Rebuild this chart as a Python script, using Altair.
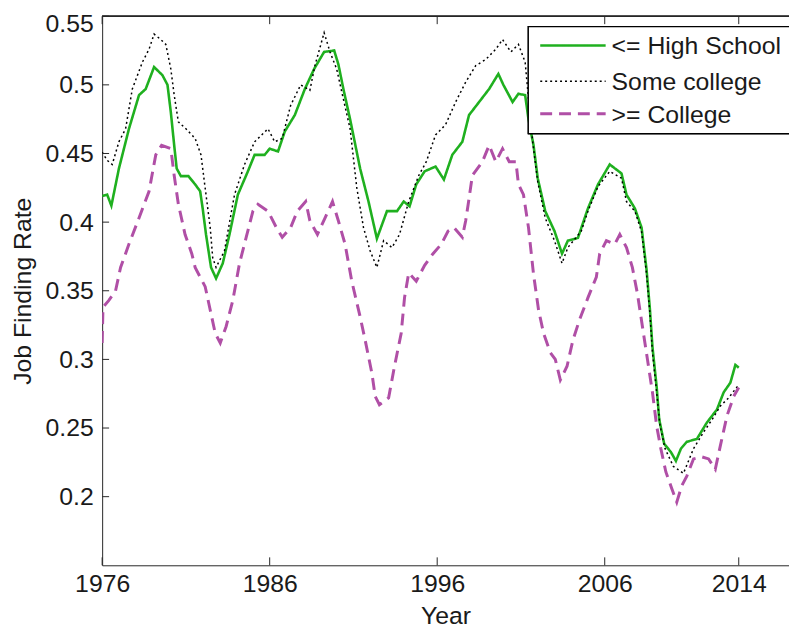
import altair as alt
import pandas as pd

# ---------------- data ----------------
series_names = ["<= High School", "Some college", ">= College"]

hs_years = [1976.0, 1976.3, 1976.55, 1977.0, 1977.6, 1978.2, 1978.6, 1979.1, 1979.6, 1979.9,
            1980.1, 1980.3, 1980.45, 1980.7, 1981.15, 1981.55, 1981.85, 1982.0, 1982.2, 1982.5,
            1982.8, 1983.2, 1983.6, 1984.1, 1984.7, 1985.1, 1985.7, 1986.0, 1986.5, 1986.9,
            1987.5, 1988.1, 1988.65, 1989.25, 1989.85, 1990.1, 1990.4, 1990.8, 1991.4, 1991.9,
            1992.4, 1993.0, 1993.6, 1994.0, 1994.35, 1994.75, 1995.25, 1995.9, 1996.4, 1996.9,
            1997.5, 1997.9, 1998.5, 1999.1, 1999.65, 1999.95, 2000.5, 2000.85, 2001.25, 2001.45,
            2001.75, 2002.0, 2002.45, 2003.0, 2003.45, 2003.8, 2004.4, 2005.0, 2005.6, 2006.3,
            2007.0, 2007.3, 2007.8, 2008.2, 2008.5, 2008.7, 2008.85, 2009.1, 2009.25, 2009.55,
            2009.95, 2010.25, 2010.55, 2010.9, 2011.5, 2012.1, 2012.7, 2013.1, 2013.5, 2013.8,
            2014.0]
hs_vals = [0.419, 0.420, 0.412, 0.439, 0.468, 0.4925, 0.497, 0.513, 0.507, 0.500,
           0.480, 0.456, 0.439, 0.4335, 0.4335, 0.4275, 0.4225, 0.410, 0.391, 0.367,
           0.359, 0.370, 0.391, 0.420, 0.437, 0.449, 0.449, 0.4535, 0.4515, 0.466,
           0.478, 0.497, 0.5115, 0.524, 0.525, 0.515, 0.497, 0.475, 0.439, 0.415,
           0.388, 0.408, 0.408, 0.415, 0.4115, 0.4275, 0.437, 0.4405, 0.431, 0.449,
           0.4585, 0.478, 0.4875, 0.497, 0.508, 0.500, 0.4875, 0.4935, 0.4925, 0.475,
           0.456, 0.432, 0.408, 0.3935, 0.377, 0.3865, 0.3885, 0.410, 0.4275, 0.442,
           0.4355, 0.420, 0.410, 0.396, 0.365, 0.336, 0.309, 0.280, 0.2565, 0.2385,
           0.2325, 0.226, 0.235, 0.240, 0.242, 0.254, 0.2635, 0.276, 0.283, 0.296,
           0.294]

sc_years = [1976.0, 1976.3, 1976.6, 1977.0, 1977.4, 1977.8, 1978.4, 1978.8, 1979.1, 1979.5,
            1979.8, 1980.1, 1980.3, 1980.55, 1981.0, 1981.55, 1981.9, 1982.1, 1982.45, 1982.6,
            1982.8, 1983.3, 1983.9, 1984.5, 1985.1, 1985.9, 1986.3, 1986.75, 1987.25, 1987.85,
            1988.4, 1988.7, 1989.25, 1989.6, 1990.0, 1990.3, 1990.8, 1991.2, 1991.6, 1992.0,
            1992.4, 1992.8, 1993.3, 1993.75, 1994.3, 1994.9, 1995.35, 1995.9, 1996.5, 1997.1,
            1997.7, 1998.3, 1998.9, 1999.5, 1999.9, 2000.4, 2000.85, 2001.25, 2001.45, 2001.7,
            2002.0, 2002.45, 2003.0, 2003.45, 2003.8, 2004.6, 2005.0, 2005.6, 2006.3, 2007.0,
            2007.3, 2007.8, 2008.2, 2008.5, 2008.7, 2008.85, 2009.1, 2009.3, 2009.6, 2010.1,
            2010.7, 2011.3, 2011.9, 2012.4, 2012.9, 2013.4, 2013.9, 2014.0]
sc_vals = [0.451, 0.445, 0.442, 0.4585, 0.468, 0.497, 0.5165, 0.526, 0.537, 0.533,
           0.5295, 0.5115, 0.4925, 0.473, 0.468, 0.461, 0.449, 0.4295, 0.396, 0.374,
           0.367, 0.379, 0.420, 0.442, 0.4585, 0.468, 0.4585, 0.461, 0.485, 0.500,
           0.496, 0.514, 0.538, 0.524, 0.5115, 0.495, 0.468, 0.425, 0.396, 0.379,
           0.367, 0.3865, 0.3815, 0.391, 0.415, 0.434, 0.444, 0.4635, 0.471, 0.4875,
           0.502, 0.514, 0.5185, 0.526, 0.533, 0.524, 0.5295, 0.5165, 0.490, 0.4585,
           0.4295, 0.403, 0.3865, 0.370, 0.3815, 0.3935, 0.408, 0.426, 0.437, 0.432,
           0.415, 0.408, 0.393, 0.362, 0.333, 0.305, 0.276, 0.252, 0.235, 0.222,
           0.217, 0.235, 0.247, 0.256, 0.266, 0.272, 0.280, 0.282]

col_years = [1976.0, 1976.05, 1976.4, 1976.8, 1977.1, 1977.6, 1978.2, 1978.8, 1979.2, 1979.55,
             1980.1, 1980.3, 1980.55, 1980.95, 1981.35, 1981.55, 1982.15, 1982.45, 1982.75, 1983.05,
             1983.4, 1983.8, 1984.2, 1984.6, 1985.0, 1985.3, 1985.9, 1986.4, 1986.75, 1987.25,
             1987.65, 1988.15, 1988.4, 1988.85, 1989.3, 1989.75, 1990.1, 1990.5, 1990.9, 1991.4,
             1991.7, 1992.1, 1992.3, 1992.55, 1993.1, 1993.45, 1993.85, 1994.05, 1994.3, 1994.75,
             1995.25, 1995.75, 1996.25, 1996.65, 1997.0, 1997.5, 1997.7, 1997.85, 1998.1, 1998.7,
             1999.1, 1999.5, 1999.9, 2000.3, 2000.7, 2000.85, 2001.15, 2001.45, 2001.75, 2002.05,
             2002.35, 2002.75, 2003.05, 2003.35, 2003.75, 2004.1, 2004.5, 2005.0, 2005.5, 2005.7,
             2006.1, 2006.6, 2006.9, 2007.3, 2007.65, 2007.95, 2008.25, 2008.55, 2008.85, 2009.1,
             2009.35, 2009.65, 2010.0, 2010.3, 2010.6, 2010.9, 2011.3, 2011.8, 2012.2, 2012.6,
             2012.9, 2013.3, 2013.7, 2014.0]
col_vals = [0.312, 0.338, 0.343, 0.350, 0.367, 0.384, 0.403, 0.4225, 0.449, 0.456,
            0.4535, 0.434, 0.413, 0.391, 0.377, 0.367, 0.353, 0.336, 0.319, 0.312,
            0.324, 0.343, 0.370, 0.389, 0.408, 0.413, 0.408, 0.396, 0.389, 0.396,
            0.408, 0.415, 0.401, 0.391, 0.403, 0.415, 0.401, 0.384, 0.357, 0.331,
            0.314, 0.290, 0.273, 0.267, 0.272, 0.295, 0.319, 0.345, 0.363, 0.357,
            0.3685, 0.377, 0.384, 0.3935, 0.396, 0.389, 0.401, 0.413, 0.434, 0.444,
            0.456, 0.444, 0.4535, 0.444, 0.444, 0.4275, 0.420, 0.396, 0.362, 0.336,
            0.319, 0.305, 0.300, 0.285, 0.295, 0.314, 0.329, 0.345, 0.360, 0.377,
            0.3865, 0.384, 0.391, 0.3815, 0.367, 0.348, 0.324, 0.300, 0.276, 0.2515,
            0.235, 0.218, 0.206, 0.196, 0.208, 0.215, 0.2275, 0.229, 0.2275, 0.220,
            0.237, 0.259, 0.273, 0.2795]

x_ticks = [1976, 1986, 1996, 2006, 2014]
y_ticks = [0.2, 0.25, 0.3, 0.35, 0.4, 0.45, 0.5, 0.55]

# ---------------- styling ----------------
colors = ["#1fb01f", "#000000", "#b04fa6"]
dashes = [[1, 0], [2, 3], [12, 7]]
widths = [2.6, 1.5, 3]
FONT = "Liberation Sans"
TXT = "#1a1a1a"
AX = "#262626"
W, H = 693, 554

rows = []
for name, ys, vs in zip(series_names, [hs_years, sc_years, col_years], [hs_vals, sc_vals, col_vals]):
    for yr, v in zip(ys, vs):
        rows.append({"series": name, "year": yr, "rate": v})
df = pd.DataFrame(rows)

xscale = alt.Scale(domain=[1976, 2017], nice=False, zero=False)
yscale = alt.Scale(domain=[0.15, 0.55], nice=False, zero=False)

lines = alt.Chart(df).mark_line(clip=True).encode(
    x=alt.X("year:Q", scale=xscale,
            axis=alt.Axis(values=x_ticks, format="d", title="Year", ticks=False,
                          labelPadding=6, labelFlush=False, titleY=59,
                          titleBaseline="alphabetic", grid=False)),
    y=alt.Y("rate:Q", scale=yscale,
            axis=alt.Axis(values=y_ticks, format=".2~f", title="Job Finding Rate",
                          ticks=False, labelPadding=9, labelFlush=True,
                          labelFlushOffset=5, titleX=-80,
                          titleY=H / 2, titleBaseline="middle", grid=False)),
    color=alt.Color("series:N", scale=alt.Scale(domain=series_names, range=colors),
                    legend=None),
    strokeDash=alt.StrokeDash("series:N", scale=alt.Scale(domain=series_names, range=dashes),
                              legend=None),
    strokeWidth=alt.StrokeWidth("series:N",
                                scale=alt.Scale(type="ordinal", domain=series_names, range=widths),
                                legend=None),
    order=alt.Order("year:Q"),
)

xt = pd.DataFrame({"year": x_ticks})
yt = pd.DataFrame({"rate": y_ticks})

bottom_ticks = alt.Chart(xt).mark_rule(color=AX, strokeWidth=1).encode(
    x=alt.X("year:Q", scale=xscale), y=alt.value(H), y2=alt.value(H - 8))
top_ticks = alt.Chart(xt).mark_rule(color=AX, strokeWidth=1).encode(
    x=alt.X("year:Q", scale=xscale), y=alt.value(0), y2=alt.value(8))
left_ticks = alt.Chart(yt).mark_rule(color=AX, strokeWidth=1).encode(
    y=alt.Y("rate:Q", scale=yscale), x=alt.value(0), x2=alt.value(7))
top_frame = alt.Chart(xt).mark_rule(color=AX, strokeWidth=1).encode(
    x=alt.value(0), x2=alt.value(W), y=alt.value(0))

# ---------------- legend (drawn by hand) ----------------
leg_df = pd.DataFrame({"series": series_names})
LX0, LY0, LY1 = 430, 10.5, 118.5
row_y = [29.5, 65.5, 98.5]

legend_box = alt.Chart(leg_df).mark_rect(
    fill="white", stroke="#000000", strokeWidth=1.2).encode(
    x=alt.value(LX0), x2=alt.value(W + 20), y=alt.value(LY0), y2=alt.value(LY1))

legend_layers = [legend_box]
for i, name in enumerate(series_names):
    one = pd.DataFrame({"series": [name]})
    legend_layers.append(
        alt.Chart(one).mark_rule(color=colors[i], strokeDash=dashes[i],
                                 strokeWidth=widths[i]).encode(
            x=alt.value(442), x2=alt.value(508), y=alt.value(row_y[i]))
    )
    legend_layers.append(
        alt.Chart(one).mark_text(align="left", baseline="middle", font=FONT,
                                 fontSize=25, color=TXT, dy=1).encode(
            x=alt.value(514), y=alt.value(row_y[i]), text="series:N")
    )

chart = alt.layer(lines, bottom_ticks, top_ticks, left_ticks, top_frame,
                  *legend_layers).properties(
    width=W, height=H,
    autosize=alt.AutoSizeParams(type="none"),
    padding={"left": 95, "top": 5.5, "right": 0, "bottom": 64},
    background="white",
).configure_view(stroke=None).configure_axis(
    domainColor=AX, domainWidth=1, labelFont=FONT, labelFontSize=25, labelColor=TXT,
    titleFont=FONT, titleFontSize=25, titleColor=TXT, titleFontWeight="normal",
)

chart.save("out.html", embed_options={"renderer": "svg", "actions": False})
